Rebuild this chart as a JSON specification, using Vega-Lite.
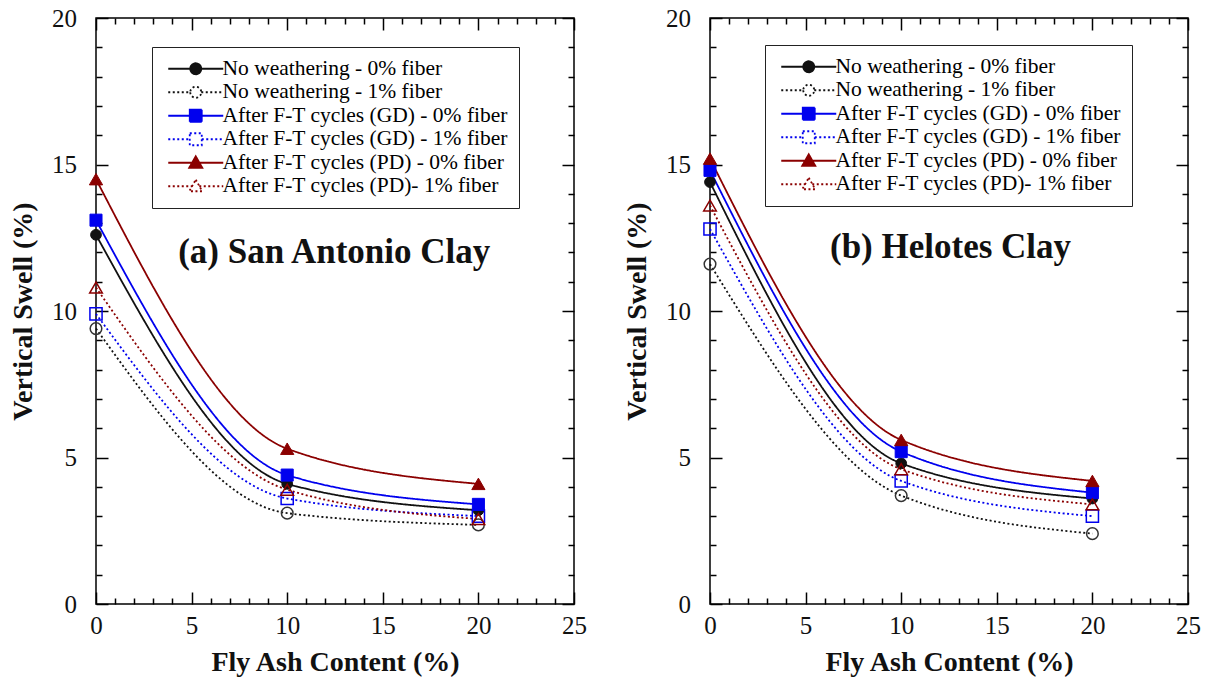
{
  "$schema": "https://vega.github.io/schema/vega-lite/v6.json",
  "padding": {"left": 8, "top": 5, "right": 0, "bottom": 0},
  "background": "white",
  "datasets": {
    "pts": [
      {"clay": "a", "series": "No weathering - 0% fiber", "weather": "None", "fiber": 0, "fa": 0, "swell": 12.6},
      {"clay": "a", "series": "No weathering - 0% fiber", "weather": "None", "fiber": 0, "fa": 10, "swell": 4.1},
      {"clay": "a", "series": "No weathering - 0% fiber", "weather": "None", "fiber": 0, "fa": 20, "swell": 3.2},
      {"clay": "a", "series": "No weathering  - 1% fiber", "weather": "None", "fiber": 1, "fa": 0, "swell": 9.4},
      {"clay": "a", "series": "No weathering  - 1% fiber", "weather": "None", "fiber": 1, "fa": 10, "swell": 3.1},
      {"clay": "a", "series": "No weathering  - 1% fiber", "weather": "None", "fiber": 1, "fa": 20, "swell": 2.7},
      {"clay": "a", "series": "After F-T cycles (GD) - 0% fiber", "weather": "GD", "fiber": 0, "fa": 0, "swell": 13.1},
      {"clay": "a", "series": "After F-T cycles (GD) - 0% fiber", "weather": "GD", "fiber": 0, "fa": 10, "swell": 4.4},
      {"clay": "a", "series": "After F-T cycles (GD) - 0% fiber", "weather": "GD", "fiber": 0, "fa": 20, "swell": 3.4},
      {"clay": "a", "series": "After F-T cycles (GD) - 1% fiber", "weather": "GD", "fiber": 1, "fa": 0, "swell": 9.9},
      {"clay": "a", "series": "After F-T cycles (GD) - 1% fiber", "weather": "GD", "fiber": 1, "fa": 10, "swell": 3.6},
      {"clay": "a", "series": "After F-T cycles (GD) - 1% fiber", "weather": "GD", "fiber": 1, "fa": 20, "swell": 3.0},
      {"clay": "a", "series": "After F-T cycles (PD) - 0% fiber", "weather": "PD", "fiber": 0, "fa": 0, "swell": 14.5},
      {"clay": "a", "series": "After F-T cycles (PD) - 0% fiber", "weather": "PD", "fiber": 0, "fa": 10, "swell": 5.3},
      {"clay": "a", "series": "After F-T cycles (PD) - 0% fiber", "weather": "PD", "fiber": 0, "fa": 20, "swell": 4.1},
      {"clay": "a", "series": "After F-T cycles (PD)- 1% fiber", "weather": "PD", "fiber": 1, "fa": 0, "swell": 10.8},
      {"clay": "a", "series": "After F-T cycles (PD)- 1% fiber", "weather": "PD", "fiber": 1, "fa": 10, "swell": 3.9},
      {"clay": "a", "series": "After F-T cycles (PD)- 1% fiber", "weather": "PD", "fiber": 1, "fa": 20, "swell": 2.9},
      {"clay": "b", "series": "No weathering - 0% fiber", "weather": "None", "fiber": 0, "fa": 0, "swell": 14.4},
      {"clay": "b", "series": "No weathering - 0% fiber", "weather": "None", "fiber": 0, "fa": 10, "swell": 4.8},
      {"clay": "b", "series": "No weathering - 0% fiber", "weather": "None", "fiber": 0, "fa": 20, "swell": 3.6},
      {"clay": "b", "series": "No weathering  - 1% fiber", "weather": "None", "fiber": 1, "fa": 0, "swell": 11.6},
      {"clay": "b", "series": "No weathering  - 1% fiber", "weather": "None", "fiber": 1, "fa": 10, "swell": 3.7},
      {"clay": "b", "series": "No weathering  - 1% fiber", "weather": "None", "fiber": 1, "fa": 20, "swell": 2.4},
      {"clay": "b", "series": "After F-T cycles (GD) - 0% fiber", "weather": "GD", "fiber": 0, "fa": 0, "swell": 14.8},
      {"clay": "b", "series": "After F-T cycles (GD) - 0% fiber", "weather": "GD", "fiber": 0, "fa": 10, "swell": 5.2},
      {"clay": "b", "series": "After F-T cycles (GD) - 0% fiber", "weather": "GD", "fiber": 0, "fa": 20, "swell": 3.8},
      {"clay": "b", "series": "After F-T cycles (GD) - 1% fiber", "weather": "GD", "fiber": 1, "fa": 0, "swell": 12.8},
      {"clay": "b", "series": "After F-T cycles (GD) - 1% fiber", "weather": "GD", "fiber": 1, "fa": 10, "swell": 4.2},
      {"clay": "b", "series": "After F-T cycles (GD) - 1% fiber", "weather": "GD", "fiber": 1, "fa": 20, "swell": 3.0},
      {"clay": "b", "series": "After F-T cycles (PD) - 0% fiber", "weather": "PD", "fiber": 0, "fa": 0, "swell": 15.2},
      {"clay": "b", "series": "After F-T cycles (PD) - 0% fiber", "weather": "PD", "fiber": 0, "fa": 10, "swell": 5.6},
      {"clay": "b", "series": "After F-T cycles (PD) - 0% fiber", "weather": "PD", "fiber": 0, "fa": 20, "swell": 4.2},
      {"clay": "b", "series": "After F-T cycles (PD)- 1% fiber", "weather": "PD", "fiber": 1, "fa": 0, "swell": 13.6},
      {"clay": "b", "series": "After F-T cycles (PD)- 1% fiber", "weather": "PD", "fiber": 1, "fa": 10, "swell": 4.6},
      {"clay": "b", "series": "After F-T cycles (PD)- 1% fiber", "weather": "PD", "fiber": 1, "fa": 20, "swell": 3.4}
    ]
  },
  "hconcat": [
    {
      "width": 478, "height": 586,
      "data": {"name": "pts"},
      "transform": [{"filter": "datum.clay == 'a'"}],
      "layer": [
        {
          "mark": {"type": "line", "interpolate": "monotone", "strokeWidth": 1.8},
          "encoding": {
            "x": {"field": "fa", "type": "quantitative", "scale": {"domain": [0, 25], "nice": false},
              "axis": {"orient": "bottom", "values": [0, 5, 10, 15, 20, 25], "ticks": false, "tickSize": 0, "domain": false, "labelPadding": 9, "labelFlush": false, "labelOverlap": false, "title": "Fly Ash Content (%)", "titlePadding": 10}},
            "y": {"field": "swell", "type": "quantitative", "scale": {"domain": [0, 20], "nice": false},
              "axis": {"orient": "left", "values": [0, 5, 10, 15, 20], "ticks": false, "tickSize": 0, "domain": false, "labelPadding": 19.5, "labelFlush": false, "labelOverlap": false, "title": "Vertical Swell (%)", "titlePadding": 14}},
            "stroke": {"field": "series", "type": "nominal", "legend": null,
              "scale": {"domain": ["No weathering - 0% fiber", "No weathering  - 1% fiber", "After F-T cycles (GD) - 0% fiber", "After F-T cycles (GD) - 1% fiber", "After F-T cycles (PD) - 0% fiber", "After F-T cycles (PD)- 1% fiber"],
                "range": ["#111111", "#111111", "#0000ee", "#0000ee", "#8b0000", "#8b0000"]}},
            "strokeDash": {"field": "series", "type": "nominal", "legend": null,
              "scale": {"domain": ["No weathering - 0% fiber", "No weathering  - 1% fiber", "After F-T cycles (GD) - 0% fiber", "After F-T cycles (GD) - 1% fiber", "After F-T cycles (PD) - 0% fiber", "After F-T cycles (PD)- 1% fiber"],
                "range": [[1, 0], [2, 2.5], [1, 0], [2, 2.5], [1, 0], [2, 2.5]]}}
          }
        },
        {
          "transform": [{"filter": "datum.fiber == 0"}],
          "mark": {"type": "point", "filled": true, "opacity": 1, "strokeWidth": 1},
          "encoding": {
            "x": {"field": "fa", "type": "quantitative", "axis": {"orient": "bottom", "values": [0, 5, 10, 15, 20, 25], "tickSize": 12, "offset": -12, "labels": false, "domain": false, "title": null}},
            "y": {"field": "swell", "type": "quantitative", "axis": {"orient": "left", "values": [0, 5, 10, 15, 20], "tickSize": 12, "offset": -12, "labels": false, "domain": false, "title": null}},
            "shape": {"field": "weather", "type": "nominal", "legend": null, "scale": {"domain": ["None", "GD", "PD"], "range": ["circle", "square", "triangle-up"]}},
            "fill": {"field": "weather", "type": "nominal", "legend": null, "scale": {"domain": ["None", "GD", "PD"], "range": ["#111111", "#0000ee", "#8b0000"]}},
            "stroke": {"field": "weather", "type": "nominal", "legend": null, "scale": {"domain": ["None", "GD", "PD"], "range": ["#111111", "#0000ee", "#8b0000"]}},
            "size": {"field": "weather", "type": "nominal", "legend": null, "scale": {"domain": ["None", "GD", "PD"], "range": [115, 175, 135]}}
          }
        },
        {
          "transform": [{"filter": "datum.fiber == 1"}],
          "mark": {"type": "point", "filled": false, "opacity": 1, "strokeWidth": 1.5},
          "encoding": {
            "x": {"field": "fa", "type": "quantitative", "axis": {"orient": "bottom", "values": [1, 2, 3, 4, 6, 7, 8, 9, 11, 12, 13, 14, 16, 17, 18, 19, 21, 22, 23, 24], "tickSize": 6, "offset": -6, "labels": false, "domain": false, "title": null}},
            "y": {"field": "swell", "type": "quantitative", "axis": {"orient": "left", "values": [1, 2, 3, 4, 6, 7, 8, 9, 11, 12, 13, 14, 16, 17, 18, 19], "tickSize": 6, "offset": -6, "labels": false, "domain": false, "title": null}},
            "shape": {"field": "weather", "type": "nominal", "legend": null, "scale": {"domain": ["None", "GD", "PD"], "range": ["circle", "square", "triangle-up"]}},
            "stroke": {"field": "weather", "type": "nominal", "legend": null, "scale": {"domain": ["None", "GD", "PD"], "range": ["#333333", "#0000ee", "#8b0000"]}},
            "size": {"field": "weather", "type": "nominal", "legend": null, "scale": {"domain": ["None", "GD", "PD"], "range": [135, 160, 135]}}
          }
        },
        {
          "data": {"values": []},
          "mark": {"type": "point", "filled": true, "opacity": 1, "strokeWidth": 1.8},
          "encoding": {
            "x": {"field": "fa", "type": "quantitative", "axis": {"orient": "top", "values": [0, 5, 10, 15, 20, 25], "tickSize": 12, "offset": -12, "labels": false, "domain": false, "title": null}},
            "y": {"field": "swell", "type": "quantitative", "axis": {"orient": "right", "values": [0, 5, 10, 15, 20], "tickSize": 12, "offset": -12, "labels": false, "domain": false, "title": null}},
            "shape": {"field": "series", "type": "nominal",
              "scale": {"domain": ["No weathering - 0% fiber", "No weathering  - 1% fiber", "After F-T cycles (GD) - 0% fiber", "After F-T cycles (GD) - 1% fiber", "After F-T cycles (PD) - 0% fiber", "After F-T cycles (PD)- 1% fiber"],
                "range": ["M-5.5,0L-1.1,0M1.1,0L5.5,0M-1.1,0A1.1,1.1,0,1,0,1.1,0A1.1,1.1,0,1,0,-1.1,0Z", "M-5.5,0L-1.1,0M1.1,0L5.5,0M-1.1,0A1.1,1.1,0,1,0,1.1,0A1.1,1.1,0,1,0,-1.1,0Z", "M-5.5,0L-1.2,0M1.2,0L5.5,0M-1.2,-1.2L1.2,-1.2L1.2,1.2L-1.2,1.2Z", "M-5.5,0L-1.2,0M1.2,0L5.5,0M-1.2,-1.2L1.2,-1.2L1.2,1.2L-1.2,1.2Z", "M-5.5,0L-0.7,0M0.7,0L5.5,0M0,-1.3L1.3,1L-1.3,1Z", "M-5.5,0L-0.7,0M0.7,0L5.5,0M0,-1.3L1.3,1L-1.3,1Z"]},
              "legend": {"orient": "none", "legendX": 56, "legendY": 29, "title": null, "strokeColor": "#222222", "fillColor": "white", "padding": 11, "labelFont": "Liberation Serif", "labelFontSize": 21.5, "labelLimit": 400, "rowPadding": 0.5, "symbolSize": 100, "symbolStrokeWidth": 1.8, "symbolOffset": 22, "labelOffset": 16,
                "encode": {"labels": {"update": {"fill": {"signal": "indexof(datum.label,'(GD)')>=0 ? '#0000ee' : indexof(datum.label,'(PD)')>=0 ? '#8b0000' : '#111111'"}}}}}},
            "stroke": {"field": "series", "type": "nominal",
              "scale": {"domain": ["No weathering - 0% fiber", "No weathering  - 1% fiber", "After F-T cycles (GD) - 0% fiber", "After F-T cycles (GD) - 1% fiber", "After F-T cycles (PD) - 0% fiber", "After F-T cycles (PD)- 1% fiber"],
                "range": ["#111111", "#111111", "#0000ee", "#0000ee", "#8b0000", "#8b0000"]},
              "legend": {"orient": "none", "legendX": 56, "legendY": 29, "title": null, "strokeColor": "#222222", "fillColor": "white", "padding": 11, "labelFont": "Liberation Serif", "labelFontSize": 21.5, "labelLimit": 400, "rowPadding": 0.5, "symbolSize": 100, "symbolStrokeWidth": 1.8, "symbolOffset": 22, "labelOffset": 16,
                "encode": {"labels": {"update": {"fill": {"signal": "indexof(datum.label,'(GD)')>=0 ? '#0000ee' : indexof(datum.label,'(PD)')>=0 ? '#8b0000' : '#111111'"}}}}}},
            "fill": {"field": "series", "type": "nominal",
              "scale": {"domain": ["No weathering - 0% fiber", "No weathering  - 1% fiber", "After F-T cycles (GD) - 0% fiber", "After F-T cycles (GD) - 1% fiber", "After F-T cycles (PD) - 0% fiber", "After F-T cycles (PD)- 1% fiber"],
                "range": ["#111111", "white", "#0000ee", "white", "#8b0000", "white"]},
              "legend": {"orient": "none", "legendX": 56, "legendY": 29, "title": null, "strokeColor": "#222222", "fillColor": "white", "padding": 11, "labelFont": "Liberation Serif", "labelFontSize": 21.5, "labelLimit": 400, "rowPadding": 0.5, "symbolSize": 100, "symbolStrokeWidth": 1.8, "symbolOffset": 22, "labelOffset": 16,
                "encode": {"labels": {"update": {"fill": {"signal": "indexof(datum.label,'(GD)')>=0 ? '#0000ee' : indexof(datum.label,'(PD)')>=0 ? '#8b0000' : '#111111'"}}}}}},
            "strokeDash": {"field": "series", "type": "nominal",
              "scale": {"domain": ["No weathering - 0% fiber", "No weathering  - 1% fiber", "After F-T cycles (GD) - 0% fiber", "After F-T cycles (GD) - 1% fiber", "After F-T cycles (PD) - 0% fiber", "After F-T cycles (PD)- 1% fiber"],
                "range": [[1, 0], [2, 2.5], [1, 0], [2, 2.5], [1, 0], [2, 2.5]]},
              "legend": {"orient": "none", "legendX": 56, "legendY": 29, "title": null, "strokeColor": "#222222", "fillColor": "white", "padding": 11, "labelFont": "Liberation Serif", "labelFontSize": 21.5, "labelLimit": 400, "rowPadding": 0.5, "symbolSize": 100, "symbolStrokeWidth": 1.8, "symbolOffset": 22, "labelOffset": 16,
                "encode": {"labels": {"update": {"fill": {"signal": "indexof(datum.label,'(GD)')>=0 ? '#0000ee' : indexof(datum.label,'(PD)')>=0 ? '#8b0000' : '#111111'"}}}}}}
          }
        },
        {
          "data": {"values": [{"label": "(a) San Antonio Clay"}]},
          "mark": {"type": "text", "font": "Liberation Serif", "fontSize": 35, "fontWeight": "bold", "color": "#111111"},
          "encoding": {
            "x": {"datum": 12.46, "type": "quantitative", "axis": {"orient": "top", "values": [1, 2, 3, 4, 6, 7, 8, 9, 11, 12, 13, 14, 16, 17, 18, 19, 21, 22, 23, 24], "tickSize": 6, "offset": -6, "labels": false, "domain": false, "title": null}},
            "y": {"datum": 12.0, "type": "quantitative", "axis": {"orient": "right", "values": [1, 2, 3, 4, 6, 7, 8, 9, 11, 12, 13, 14, 16, 17, 18, 19], "tickSize": 6, "offset": -6, "labels": false, "domain": false, "title": null}},
            "text": {"field": "label"}
          }
        }
      ],
      "resolve": {
        "axis": {"x": "independent", "y": "independent"},
        "scale": {"stroke": "independent", "fill": "independent", "shape": "independent", "strokeDash": "independent", "size": "independent"},
        "legend": {"stroke": "independent", "fill": "independent", "shape": "independent", "strokeDash": "independent", "size": "independent"}
      }
    },
    {
      "width": 478, "height": 586,
      "data": {"name": "pts"},
      "transform": [{"filter": "datum.clay == 'b'"}],
      "layer": [
        {
          "mark": {"type": "line", "interpolate": "monotone", "strokeWidth": 1.8},
          "encoding": {
            "x": {"field": "fa", "type": "quantitative", "scale": {"domain": [0, 25], "nice": false},
              "axis": {"orient": "bottom", "values": [0, 5, 10, 15, 20, 25], "ticks": false, "tickSize": 0, "domain": false, "labelPadding": 9, "labelFlush": false, "labelOverlap": false, "title": "Fly Ash Content (%)", "titlePadding": 10}},
            "y": {"field": "swell", "type": "quantitative", "scale": {"domain": [0, 20], "nice": false},
              "axis": {"orient": "left", "values": [0, 5, 10, 15, 20], "ticks": false, "tickSize": 0, "domain": false, "labelPadding": 19.5, "labelFlush": false, "labelOverlap": false, "title": "Vertical Swell (%)", "titlePadding": 14}},
            "stroke": {"field": "series", "type": "nominal", "legend": null,
              "scale": {"domain": ["No weathering - 0% fiber", "No weathering  - 1% fiber", "After F-T cycles (GD) - 0% fiber", "After F-T cycles (GD) - 1% fiber", "After F-T cycles (PD) - 0% fiber", "After F-T cycles (PD)- 1% fiber"],
                "range": ["#111111", "#111111", "#0000ee", "#0000ee", "#8b0000", "#8b0000"]}},
            "strokeDash": {"field": "series", "type": "nominal", "legend": null,
              "scale": {"domain": ["No weathering - 0% fiber", "No weathering  - 1% fiber", "After F-T cycles (GD) - 0% fiber", "After F-T cycles (GD) - 1% fiber", "After F-T cycles (PD) - 0% fiber", "After F-T cycles (PD)- 1% fiber"],
                "range": [[1, 0], [2, 2.5], [1, 0], [2, 2.5], [1, 0], [2, 2.5]]}}
          }
        },
        {
          "transform": [{"filter": "datum.fiber == 0"}],
          "mark": {"type": "point", "filled": true, "opacity": 1, "strokeWidth": 1},
          "encoding": {
            "x": {"field": "fa", "type": "quantitative", "axis": {"orient": "bottom", "values": [0, 5, 10, 15, 20, 25], "tickSize": 12, "offset": -12, "labels": false, "domain": false, "title": null}},
            "y": {"field": "swell", "type": "quantitative", "axis": {"orient": "left", "values": [0, 5, 10, 15, 20], "tickSize": 12, "offset": -12, "labels": false, "domain": false, "title": null}},
            "shape": {"field": "weather", "type": "nominal", "legend": null, "scale": {"domain": ["None", "GD", "PD"], "range": ["circle", "square", "triangle-up"]}},
            "fill": {"field": "weather", "type": "nominal", "legend": null, "scale": {"domain": ["None", "GD", "PD"], "range": ["#111111", "#0000ee", "#8b0000"]}},
            "stroke": {"field": "weather", "type": "nominal", "legend": null, "scale": {"domain": ["None", "GD", "PD"], "range": ["#111111", "#0000ee", "#8b0000"]}},
            "size": {"field": "weather", "type": "nominal", "legend": null, "scale": {"domain": ["None", "GD", "PD"], "range": [115, 175, 135]}}
          }
        },
        {
          "transform": [{"filter": "datum.fiber == 1"}],
          "mark": {"type": "point", "filled": false, "opacity": 1, "strokeWidth": 1.5},
          "encoding": {
            "x": {"field": "fa", "type": "quantitative", "axis": {"orient": "bottom", "values": [1, 2, 3, 4, 6, 7, 8, 9, 11, 12, 13, 14, 16, 17, 18, 19, 21, 22, 23, 24], "tickSize": 6, "offset": -6, "labels": false, "domain": false, "title": null}},
            "y": {"field": "swell", "type": "quantitative", "axis": {"orient": "left", "values": [1, 2, 3, 4, 6, 7, 8, 9, 11, 12, 13, 14, 16, 17, 18, 19], "tickSize": 6, "offset": -6, "labels": false, "domain": false, "title": null}},
            "shape": {"field": "weather", "type": "nominal", "legend": null, "scale": {"domain": ["None", "GD", "PD"], "range": ["circle", "square", "triangle-up"]}},
            "stroke": {"field": "weather", "type": "nominal", "legend": null, "scale": {"domain": ["None", "GD", "PD"], "range": ["#333333", "#0000ee", "#8b0000"]}},
            "size": {"field": "weather", "type": "nominal", "legend": null, "scale": {"domain": ["None", "GD", "PD"], "range": [135, 160, 135]}}
          }
        },
        {
          "data": {"values": []},
          "mark": {"type": "point", "filled": true, "opacity": 1, "strokeWidth": 1.8},
          "encoding": {
            "x": {"field": "fa", "type": "quantitative", "axis": {"orient": "top", "values": [0, 5, 10, 15, 20, 25], "tickSize": 12, "offset": -12, "labels": false, "domain": false, "title": null}},
            "y": {"field": "swell", "type": "quantitative", "axis": {"orient": "right", "values": [0, 5, 10, 15, 20], "tickSize": 12, "offset": -12, "labels": false, "domain": false, "title": null}},
            "shape": {"field": "series", "type": "nominal",
              "scale": {"domain": ["No weathering - 0% fiber", "No weathering  - 1% fiber", "After F-T cycles (GD) - 0% fiber", "After F-T cycles (GD) - 1% fiber", "After F-T cycles (PD) - 0% fiber", "After F-T cycles (PD)- 1% fiber"],
                "range": ["M-5.5,0L-1.1,0M1.1,0L5.5,0M-1.1,0A1.1,1.1,0,1,0,1.1,0A1.1,1.1,0,1,0,-1.1,0Z", "M-5.5,0L-1.1,0M1.1,0L5.5,0M-1.1,0A1.1,1.1,0,1,0,1.1,0A1.1,1.1,0,1,0,-1.1,0Z", "M-5.5,0L-1.2,0M1.2,0L5.5,0M-1.2,-1.2L1.2,-1.2L1.2,1.2L-1.2,1.2Z", "M-5.5,0L-1.2,0M1.2,0L5.5,0M-1.2,-1.2L1.2,-1.2L1.2,1.2L-1.2,1.2Z", "M-5.5,0L-0.7,0M0.7,0L5.5,0M0,-1.3L1.3,1L-1.3,1Z", "M-5.5,0L-0.7,0M0.7,0L5.5,0M0,-1.3L1.3,1L-1.3,1Z"]},
              "legend": {"orient": "none", "legendX": 55, "legendY": 27, "title": null, "strokeColor": "#222222", "fillColor": "white", "padding": 11, "labelFont": "Liberation Serif", "labelFontSize": 21.5, "labelLimit": 400, "rowPadding": 0.5, "symbolSize": 100, "symbolStrokeWidth": 1.8, "symbolOffset": 22, "labelOffset": 16,
                "encode": {"labels": {"update": {"fill": {"signal": "indexof(datum.label,'(GD)')>=0 ? '#0000ee' : indexof(datum.label,'(PD)')>=0 ? '#8b0000' : '#111111'"}}}}}},
            "stroke": {"field": "series", "type": "nominal",
              "scale": {"domain": ["No weathering - 0% fiber", "No weathering  - 1% fiber", "After F-T cycles (GD) - 0% fiber", "After F-T cycles (GD) - 1% fiber", "After F-T cycles (PD) - 0% fiber", "After F-T cycles (PD)- 1% fiber"],
                "range": ["#111111", "#111111", "#0000ee", "#0000ee", "#8b0000", "#8b0000"]},
              "legend": {"orient": "none", "legendX": 55, "legendY": 27, "title": null, "strokeColor": "#222222", "fillColor": "white", "padding": 11, "labelFont": "Liberation Serif", "labelFontSize": 21.5, "labelLimit": 400, "rowPadding": 0.5, "symbolSize": 100, "symbolStrokeWidth": 1.8, "symbolOffset": 22, "labelOffset": 16,
                "encode": {"labels": {"update": {"fill": {"signal": "indexof(datum.label,'(GD)')>=0 ? '#0000ee' : indexof(datum.label,'(PD)')>=0 ? '#8b0000' : '#111111'"}}}}}},
            "fill": {"field": "series", "type": "nominal",
              "scale": {"domain": ["No weathering - 0% fiber", "No weathering  - 1% fiber", "After F-T cycles (GD) - 0% fiber", "After F-T cycles (GD) - 1% fiber", "After F-T cycles (PD) - 0% fiber", "After F-T cycles (PD)- 1% fiber"],
                "range": ["#111111", "white", "#0000ee", "white", "#8b0000", "white"]},
              "legend": {"orient": "none", "legendX": 55, "legendY": 27, "title": null, "strokeColor": "#222222", "fillColor": "white", "padding": 11, "labelFont": "Liberation Serif", "labelFontSize": 21.5, "labelLimit": 400, "rowPadding": 0.5, "symbolSize": 100, "symbolStrokeWidth": 1.8, "symbolOffset": 22, "labelOffset": 16,
                "encode": {"labels": {"update": {"fill": {"signal": "indexof(datum.label,'(GD)')>=0 ? '#0000ee' : indexof(datum.label,'(PD)')>=0 ? '#8b0000' : '#111111'"}}}}}},
            "strokeDash": {"field": "series", "type": "nominal",
              "scale": {"domain": ["No weathering - 0% fiber", "No weathering  - 1% fiber", "After F-T cycles (GD) - 0% fiber", "After F-T cycles (GD) - 1% fiber", "After F-T cycles (PD) - 0% fiber", "After F-T cycles (PD)- 1% fiber"],
                "range": [[1, 0], [2, 2.5], [1, 0], [2, 2.5], [1, 0], [2, 2.5]]},
              "legend": {"orient": "none", "legendX": 55, "legendY": 27, "title": null, "strokeColor": "#222222", "fillColor": "white", "padding": 11, "labelFont": "Liberation Serif", "labelFontSize": 21.5, "labelLimit": 400, "rowPadding": 0.5, "symbolSize": 100, "symbolStrokeWidth": 1.8, "symbolOffset": 22, "labelOffset": 16,
                "encode": {"labels": {"update": {"fill": {"signal": "indexof(datum.label,'(GD)')>=0 ? '#0000ee' : indexof(datum.label,'(PD)')>=0 ? '#8b0000' : '#111111'"}}}}}}
          }
        },
        {
          "data": {"values": [{"label": "(b) Helotes Clay"}]},
          "mark": {"type": "text", "font": "Liberation Serif", "fontSize": 35, "fontWeight": "bold", "color": "#111111"},
          "encoding": {
            "x": {"datum": 12.58, "type": "quantitative", "axis": {"orient": "top", "values": [1, 2, 3, 4, 6, 7, 8, 9, 11, 12, 13, 14, 16, 17, 18, 19, 21, 22, 23, 24], "tickSize": 6, "offset": -6, "labels": false, "domain": false, "title": null}},
            "y": {"datum": 12.2, "type": "quantitative", "axis": {"orient": "right", "values": [1, 2, 3, 4, 6, 7, 8, 9, 11, 12, 13, 14, 16, 17, 18, 19], "tickSize": 6, "offset": -6, "labels": false, "domain": false, "title": null}},
            "text": {"field": "label"}
          }
        }
      ],
      "resolve": {
        "axis": {"x": "independent", "y": "independent"},
        "scale": {"stroke": "independent", "fill": "independent", "shape": "independent", "strokeDash": "independent", "size": "independent"},
        "legend": {"stroke": "independent", "fill": "independent", "shape": "independent", "strokeDash": "independent", "size": "independent"}
      }
    }
  ],
  "spacing": 34,
  "resolve": {
    "scale": {"stroke": "independent", "fill": "independent", "shape": "independent", "strokeDash": "independent", "size": "independent"},
    "legend": {"stroke": "independent", "fill": "independent", "shape": "independent", "strokeDash": "independent", "size": "independent"}
  },
  "config": {
    "view": {"stroke": "black", "strokeWidth": 1.5},
    "axis": {"grid": false, "domainColor": "black", "domainWidth": 1.5, "tickColor": "black", "tickWidth": 1.5,
      "labelFont": "Liberation Serif", "labelFontSize": 25, "labelColor": "#111111",
      "titleFont": "Liberation Serif", "titleFontSize": 28, "titleFontWeight": "bold", "titleColor": "#111111"}
  }
}
